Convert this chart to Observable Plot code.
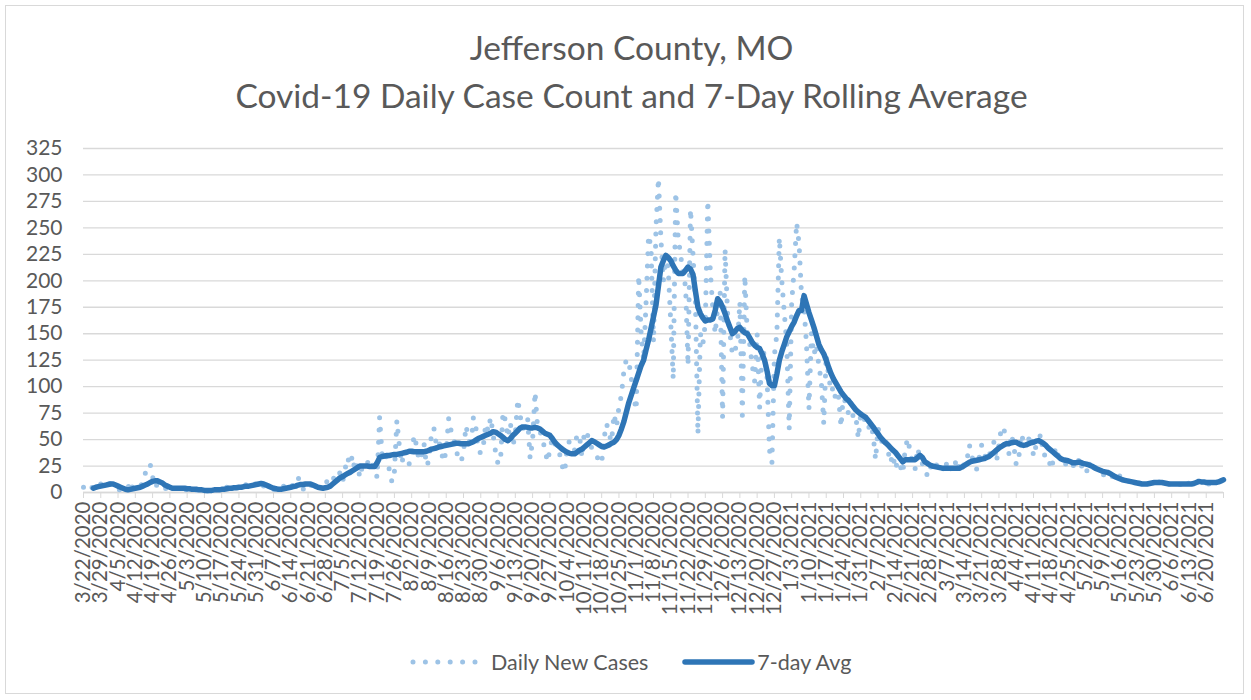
<!DOCTYPE html>
<html>
<head>
<meta charset="utf-8">
<script src="https://cdn.jsdelivr.net/npm/d3@7"></script>
<script src="https://cdn.jsdelivr.net/npm/@observablehq/plot@0.6"></script>
<style>
  html, body { margin: 0; padding: 0; background: #fff; }
  #wrap { position: relative; width: 1251px; height: 700px; font-family: Lato, "Open Sans", sans-serif; color: #595959; }
  #border { position: absolute; left: 5px; top: 5px; width: 1239px; height: 689px; border: 1px solid #d9d9d9; box-sizing: border-box; }
  .title { position: absolute; left: 6px; width: 1251px; text-align: center; font-size: 33.5px; white-space: nowrap; line-height: 40px; }
  #legend { position: absolute; left: 409px; top: 648px; display: flex; align-items: center; font-size: 21.5px; line-height: 28px; white-space: nowrap; }
  #legend .item { display: flex; align-items: center; }
  #chart { position: absolute; left: 0; top: 0; }
</style>
</head>
<body>
<div id="wrap">
  <div id="border"></div>
  <div id="chart"></div>
  <div class="title" style="top: 27px;">Jefferson County, MO</div>
  <div class="title" style="top: 75px;">Covid-19 Daily Case Count and 7-Day Rolling Average</div>
  <div id="legend"></div>
</div>
<script>
// ---------------- data ----------------
const startDate = "2020-03-22";   // first day of series (day 0)
const seriesNames = ["Daily New Cases", "7-day Avg"];

// Daily new cases, one value per day from 3/22/2020 to 6/27/2021 (7 per row = one week)
const dailyNewCases = [
  5, 2, 4, 6, 3, 7, 8,
  8, 9, 7, 10, 8, 5, 3,
  2, 3, 1, 2, 4, 11, 3,
  4, 5, 6, 9, 18, 21, 27,
  15, 5, 8, 6, 3, 4, 3,
  4, 5, 3, 4, 6, 3, 2,
  3, 2, 4, 3, 2, 3, 1,
  2, 1, 3, 2, 5, 2, 3,
  4, 3, 5, 4, 6, 3, 5,
  6, 5, 8, 7, 6, 9, 7,
  9, 8, 10, 6, 4, 2, 3,
  3, 2, 4, 3, 6, 5, 4,
  8, 6, 7, 14, 9, 3, 8,
  9, 8, 4, 3, 2, 5, 3,
  6, 13, 10, 12, 16, 21, 18,
  10, 22, 33, 26, 35, 20, 27,
  14, 25, 28, 30, 22, 26, 24,
  14, 71, 36, 40, 32, 21, 10,
  20, 68, 44, 27, 40, 36, 27,
  38, 54, 44, 30, 35, 46, 25,
  30, 55, 61, 45, 49, 38, 29,
  40, 70, 58, 51, 40, 32, 29,
  38, 63, 52, 42, 71, 62, 40,
  37, 43, 65, 58, 71, 55, 38,
  27, 30, 76, 68, 52, 66, 44,
  55, 88, 72, 60, 66, 70, 32,
  49, 95, 62, 58, 50, 41, 29,
  40, 52, 46, 38, 36, 25, 19,
  43, 49, 44, 40, 55, 54, 33,
  58, 57, 47, 42, 38, 35, 28,
  28, 52, 65, 55, 48, 74, 62,
  81, 92, 115, 126, 124, 108, 90,
  78, 205, 150, 125, 180, 243, 232,
  142, 250, 297, 240, 200, 225, 210,
  160, 107, 284, 240, 225, 205, 195,
  120, 268, 225, 180, 55, 150, 140,
  160, 276, 210, 175, 150, 175, 190,
  71, 230, 170, 150, 130, 135, 140,
  180, 73, 205, 150, 140, 120, 105,
  150, 80, 135, 130, 110, 40, 28,
  130, 150, 241, 200, 170, 140, 60,
  180, 210, 255, 235, 185, 175, 140,
  79, 150, 130, 140, 120, 105, 65,
  130, 110, 95, 100, 85, 90, 62,
  95, 80, 75, 85, 70, 72, 51,
  75, 70, 68, 60, 65, 55, 31,
  61, 52, 45, 50, 40, 28, 36,
  22, 30, 25, 18, 41, 51, 39,
  27, 22, 42, 33, 27, 25, 15,
  22, 28, 30, 24, 22, 25, 19,
  30, 24, 20, 26, 32, 22, 28,
  25, 30, 45, 35, 24, 22, 33,
  45, 37, 30, 35, 40, 48, 29,
  45, 62, 60, 49, 36, 55, 45,
  26, 32, 55, 48, 52, 50, 55,
  34, 44, 50, 55, 35, 36, 35,
  22, 30, 43, 35, 30, 28, 27,
  28, 30, 25, 28, 33, 22, 28,
  25, 18, 30, 28, 24, 21, 20,
  16, 18, 20, 17, 15, 14, 11,
  16, 13, 12, 10, 11, 9, 10,
  8, 9, 7, 5, 8, 9, 11,
  10, 9, 10, 11, 9, 10, 8,
  7, 8, 6, 7, 8, 9, 12,
  8, 7, 9, 11, 10, 12, 10,
  9, 8, 10, 9, 11, 10, 16,
  14
];

// 7-day rolling average, same days (null where not shown)
const sevenDayAvg = [
  null, null, null, null, 4, 5, 5.5,
  6, 6.5, 7, 7.5, 8, 8, 7,
  6, 5, 4, 3, 2.5, 3, 3.5,
  4, 4.5, 5, 6, 7, 8, 9.5,
  10.5, 11, 11, 10, 9, 7, 6,
  5, 4, 4, 4, 4, 4, 4,
  3.5, 3.5, 3, 3, 3, 2.5, 2.5,
  2, 2, 2, 2, 2.5, 2.5, 2.5,
  3, 3, 3.5, 4, 4, 4.5, 4.5,
  5, 5, 5.5, 6, 6, 6.5, 7,
  7.5, 8, 8.5, 8, 7, 6, 5,
  4, 3.5, 3, 3, 3.5, 4, 4.5,
  5, 5.5, 6, 7, 7.5, 7.5, 8,
  8, 8, 7, 6, 5, 4.5, 4,
  4.5, 5, 6, 8, 10, 12, 14,
  15, 16.5, 18, 19, 20.5, 22, 23.5,
  25, 25, 25, 25, 24.5, 24.5, 24.5,
  28, 33, 34, 34.5, 35, 35, 35.5,
  36, 36, 36.5, 37, 37.5, 38, 39,
  39, 38.5, 38.5, 38.5, 38.5, 38.5, 39,
  40, 41, 41.5, 42, 43, 43.5, 44,
  44.5, 45, 45.5, 46, 46.5, 46.5, 46,
  46, 46, 46, 47, 48, 49.5, 51,
  52, 53, 54, 55, 56, 57.5, 57,
  55.5, 54, 52, 50, 49, 51, 54,
  56, 58.5, 61, 62, 62, 61.5, 61,
  61, 61.5, 61, 60, 58, 56, 55,
  54, 51, 47.5, 45, 43, 41, 39.5,
  38, 37, 36.5, 36.5, 38, 40, 41,
  43, 45, 47, 49, 48, 46.5, 45,
  43.5, 43, 44, 45, 46.5, 47.5, 50,
  54, 60, 67, 76, 85, 92, 99,
  106, 113, 120, 125, 135, 144, 155,
  166, 177, 195, 213, 219, 224, 222,
  219, 214, 210, 207, 207, 207, 210,
  213, 211, 206, 190, 175, 169, 165,
  162, 163, 163, 164, 172, 183, 180,
  175, 169, 162, 156, 150, 152, 155,
  156, 153, 151, 150, 146, 142, 139,
  137, 136, 131, 125, 115, 103, 101,
  101, 112, 125, 133, 140, 147, 152,
  157, 161, 167, 172, 172, 186, 178,
  170, 163, 156, 148, 140, 135, 131,
  125, 118, 112, 107, 103, 99, 95,
  92, 89, 87, 84, 81, 78, 76,
  74, 72.5, 71, 68, 65, 62, 58.5,
  55.5, 52, 49.5, 47, 45, 42.5, 40,
  38, 35, 32, 29, 31, 31, 31,
  31, 31, 33, 35, 33, 29, 27.5,
  26, 25, 24.5, 24, 23.5, 23, 23,
  23, 23, 23, 23, 23, 23, 24,
  25.5, 27, 28.5, 29.5, 30, 30.5, 31,
  31.5, 32, 33, 34, 36, 38, 40,
  42, 43.5, 45, 46, 46, 47, 47.5,
  47.5, 46, 45, 44.5, 45, 46, 47,
  47.5, 48.5, 49, 48, 46.5, 44.5, 42,
  40, 38, 36, 34, 32, 31, 30.5,
  30, 29, 28, 28, 28.5, 28.5, 27.5,
  27, 26.5, 25.5, 24.5, 23, 22, 21,
  20, 19.5, 19, 18, 16.5, 15, 14,
  13, 12, 11.5, 11, 10.5, 10, 9.5,
  9, 8.5, 8, 8, 8, 8.5, 9,
  9.5, 9.5, 9.5, 9.5, 9, 8.5, 8,
  8, 8, 8, 8, 8, 8, 8,
  8, 8, 8.5, 9.5, 10.5, 10, 10,
  9.5, 9.5, 9.5, 9.5, 9.5, 10, 11,
  12
];

// x-axis tick labels (weekly)
const tickLabels = [
  "3/22/2020","3/29/2020","4/5/2020","4/12/2020","4/19/2020","4/26/2020","5/3/2020","5/10/2020",
  "5/17/2020","5/24/2020","5/31/2020","6/7/2020","6/14/2020","6/21/2020","6/28/2020","7/5/2020",
  "7/12/2020","7/19/2020","7/26/2020","8/2/2020","8/9/2020","8/16/2020","8/23/2020","8/30/2020",
  "9/6/2020","9/13/2020","9/20/2020","9/27/2020","10/4/2020","10/11/2020","10/18/2020","10/25/2020",
  "11/1/2020","11/8/2020","11/15/2020","11/22/2020","11/29/2020","12/6/2020","12/13/2020","12/20/2020",
  "12/27/2020","1/3/2021","1/10/2021","1/17/2021","1/24/2021","1/31/2021","2/7/2021","2/14/2021",
  "2/21/2021","2/28/2021","3/7/2021","3/14/2021","3/21/2021","3/28/2021","4/4/2021","4/11/2021",
  "4/18/2021","4/25/2021","5/2/2021","5/9/2021","5/16/2021","5/23/2021","5/30/2021","6/6/2021",
  "6/13/2021","6/20/2021"
];
const axisEndLabel = "6/27/2021";
const yTicks = [0, 25, 50, 75, 100, 125, 150, 175, 200, 225, 250, 275, 300, 325];

// ---------------- build ----------------
const DAY = 864e5;
const t0 = new Date(startDate + "T00:00:00Z");
const dayDate = i => new Date(t0.getTime() + i * DAY);
const parseMDY = s => { const [m, d, y] = s.split("/").map(Number); return new Date(Date.UTC(y, m - 1, d)); };
const fmtMDY = d => `${d.getUTCMonth() + 1}/${d.getUTCDate()}/${d.getUTCFullYear()}`;

const dailyData = dailyNewCases.map((v, i) => ({date: dayDate(i), value: v}));
const avgData = sevenDayAvg.map((v, i) => ({date: dayDate(i), value: v})).filter(d => d.value != null);
const tickDates = tickLabels.map(parseMDY);
const endDate = parseMDY(axisEndLabel);

const TEXT = "#595959", GRID = "#d9d9d9", LIGHT = "#9dc3e6", DARK = "#2e75b6";

const chart = Plot.plot({
  width: 1251,
  height: 700,
  marginLeft: 83,
  marginRight: 28,
  marginTop: 148,
  marginBottom: 208,
  style: {fontFamily: 'Lato, "Open Sans", sans-serif', color: TEXT, background: "transparent", overflow: "visible"},
  x: {type: "utc", domain: [t0, endDate]},
  y: {domain: [0, 325]},
  marks: [
    Plot.gridY(yTicks, {stroke: GRID, strokeOpacity: 1, strokeWidth: 1.3}),
    Plot.ruleY([0], {stroke: GRID, strokeWidth: 1.3}),
    Plot.axisX(tickDates, {tickFormat: fmtMDY, tickRotate: -90, tickSize: 6, tickPadding: 3, stroke: GRID, strokeOpacity: 1, fontSize: 20.5, fill: TEXT, label: null}),
    Plot.axisX([endDate], {tickFormat: () => "", tickSize: 6, stroke: GRID, strokeOpacity: 1, label: null}),
    Plot.axisY(yTicks, {tickSize: 0, tickPadding: 21, fontSize: 21, fill: TEXT, label: null}),
    Plot.line(dailyData, {x: "date", y: "value", stroke: LIGHT, strokeWidth: 5, strokeDasharray: "0 12.3", strokeLinecap: "round", strokeLinejoin: "round"}),
    Plot.line(avgData, {x: "date", y: "value", stroke: DARK, strokeWidth: 5.5, strokeLinecap: "round", strokeLinejoin: "round"})
  ]
});
document.getElementById("chart").appendChild(chart);

// legend
const legend = document.getElementById("legend");
function item(svgInner, w, label, gapBetween, gapAfter) {
  const el = document.createElement("div");
  el.className = "item";
  el.style.marginRight = gapAfter + "px";
  el.innerHTML = `<svg width="${w}" height="14" style="margin-right:${gapBetween}px">${svgInner}</svg><span>${label}</span>`;
  legend.appendChild(el);
}
item(`<line x1="4" y1="7" x2="66" y2="7" stroke="${LIGHT}" stroke-width="5" stroke-dasharray="0 12.4" stroke-linecap="round"/>`, 72, seriesNames[0], 10, 34);
item(`<line x1="3" y1="7" x2="70" y2="7" stroke="${DARK}" stroke-width="5.5" stroke-linecap="round"/>`, 73, seriesNames[1], 2, 0);
</script>
</body>
</html>
